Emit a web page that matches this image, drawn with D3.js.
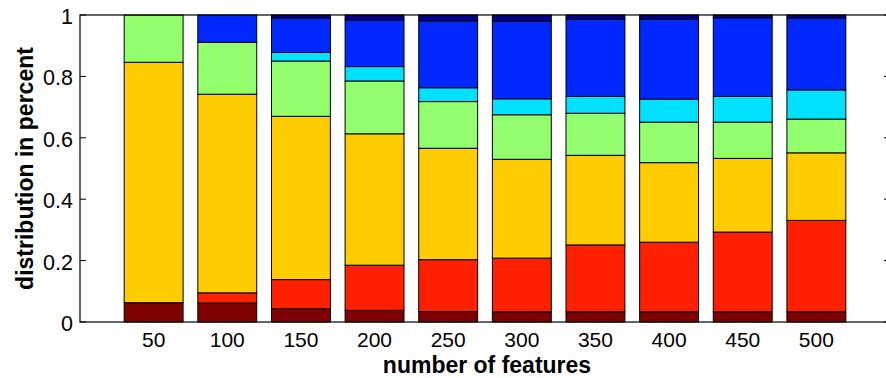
<!DOCTYPE html>
<html>
<head>
<meta charset="utf-8">
<script src="https://cdn.jsdelivr.net/npm/d3@7"></script>
<style>
  body { margin: 0; background: #fff; }
  svg { display: block; font-family: "Liberation Sans", Arial, sans-serif; }
</style>
</head>
<body>
<script>
// categories on the x axis
const features = [50, 100, 150, 200, 250, 300, 350, 400, 450, 500];
const yTicks = [0, 0.2, 0.4, 0.6, 0.8, 1];

// share of each class per bar, from bottom to top
const class1 = [0.063, 0.062, 0.043, 0.038, 0.034, 0.033, 0.033, 0.033, 0.033, 0.033];
const class2 = [0.000, 0.033, 0.095, 0.147, 0.169, 0.175, 0.218, 0.227, 0.260, 0.298];
const class3 = [0.783, 0.647, 0.532, 0.428, 0.363, 0.322, 0.292, 0.259, 0.240, 0.220];
const class4 = [0.154, 0.169, 0.180, 0.172, 0.152, 0.145, 0.137, 0.132, 0.118, 0.110];
const class5 = [0.000, 0.000, 0.028, 0.047, 0.045, 0.052, 0.055, 0.075, 0.084, 0.095];
const class6 = [0.000, 0.089, 0.112, 0.152, 0.218, 0.253, 0.251, 0.260, 0.256, 0.234];
const class7 = [0.000, 0.000, 0.010, 0.016, 0.019, 0.020, 0.014, 0.014, 0.009, 0.010];

const seriesKeys = ["c1", "c2", "c3", "c4", "c5", "c6", "c7"];
const colors = ["#7f0000", "#ff2000", "#ffcc00", "#93ff6f", "#00e0ff", "#0028ff", "#000090"];

const W = 886, H = 378;
const margin = { left: 80, right: -4, top: 15, bottom: 56 };

// build table for d3.stack
const table = features.map((f, i) => ({
  f: f,
  c1: class1[i], c2: class2[i], c3: class3[i], c4: class4[i],
  c5: class5[i], c6: class6[i], c7: class7[i]
}));

const svg = d3.select("body").append("svg")
  .attr("width", W)
  .attr("height", H);

const x = d3.scaleLinear().domain([0, 550]).range([margin.left, W - margin.right]);
const y = d3.scaleLinear().domain([0, 1]).range([H - margin.bottom, margin.top]);
const barW = (x(50) - x(0)) * 0.8;

const stacked = d3.stack().keys(seriesKeys)(table);

// bars
svg.append("g")
  .selectAll("g")
  .data(stacked)
  .join("g")
  .attr("fill", (d, i) => colors[i])
  .selectAll("rect")
  .data(d => d)
  .join("rect")
  .attr("x", d => x(d.data.f) - barW / 2)
  .attr("y", d => y(d[1]))
  .attr("width", barW)
  .attr("height", d => Math.max(0, y(d[0]) - y(d[1])))
  .attr("stroke", "#000")
  .attr("stroke-width", 1);

// axes box
const x0 = x(0), x1 = x(550), y0 = y(0), y1 = y(1);
svg.append("rect")
  .attr("x", x0).attr("y", y1)
  .attr("width", x1 - x0).attr("height", y0 - y1)
  .attr("fill", "none").attr("stroke", "#000").attr("stroke-width", 1.2);

// y ticks (inward on both sides)
const tickLen = 6;
yTicks.forEach(t => {
  svg.append("line")
    .attr("x1", x0).attr("x2", x0 + tickLen)
    .attr("y1", y(t)).attr("y2", y(t))
    .attr("stroke", "#000");
  svg.append("line")
    .attr("x1", x1).attr("x2", x1 - tickLen)
    .attr("y1", y(t)).attr("y2", y(t))
    .attr("stroke", "#000");
  svg.append("text")
    .attr("x", x0 - 7)
    .attr("y", y(t) + 9)
    .attr("text-anchor", "end")
    .attr("font-size", "21.5px")
    .attr("fill", "#000")
    .text(d3.format("~g")(t));
});

// x tick labels
features.forEach(f => {
  svg.append("text")
    .attr("x", x(f))
    .attr("y", y0 + 25)
    .attr("text-anchor", "middle")
    .attr("font-size", "21px")
    .attr("fill", "#000")
    .text(f);
});

// axis titles
svg.append("text")
  .attr("x", 487)
  .attr("y", 373)
  .attr("text-anchor", "middle")
  .attr("font-size", "23px")
  .attr("font-weight", "bold")
  .text("number of features");

svg.append("text")
  .attr("transform", "translate(33," + ((y0 + y1) / 2) + ") rotate(-90)")
  .attr("text-anchor", "middle")
  .attr("font-size", "23px")
  .attr("font-weight", "bold")
  .text("distribution in percent");
</script>
</body>
</html>
